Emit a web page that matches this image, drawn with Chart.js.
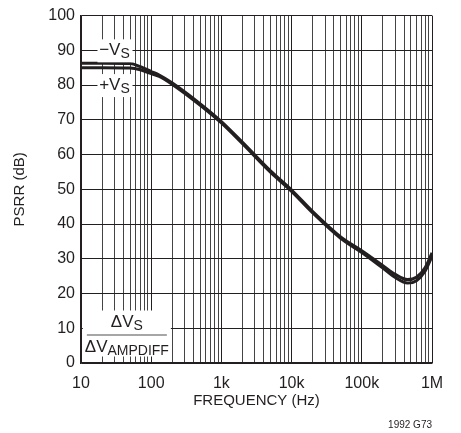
<!DOCTYPE html>
<html>
<head>
  <meta charset="utf-8">
  <title>PSRR vs Frequency</title>
  <style type="text/css">
    body {
      background-color: #FFF;
      margin: 0;
      padding: 0;
    }
    #psrr {
      display: block;
    }
  </style>
</head>
<body>
  <canvas id="psrr" width="461" height="433"></canvas>

  <script src="https://cdn.jsdelivr.net/npm/chart.js"></script>
  <script>
    // values
    var frekans = [10, 20, 50, 70, 100, 130, 200, 500, 1000, 2000, 5000, 10000, 20000, 50000, 100000, 200000, 300000, 450000, 600000, 800000, 1000000];
    var eksiVs = [86.3, 86.3, 86.2, 85.3, 83.9, 82.9, 80.6, 74.6, 69.5, 63.5, 55.3, 49.8, 43.6, 36.3, 32.3, 28.0, 25.5, 24.0, 24.7, 27.5, 31.7];
    var artiVs = [85.0, 85.0, 84.9, 84.4, 83.3, 82.5, 80.2, 74.2, 69.1, 63.1, 54.9, 49.4, 43.2, 35.9, 31.8, 27.3, 24.6, 23.0, 23.7, 26.5, 30.7];
    var xEtiketler = {10: '10', 100: '100', 1000: '1k', 10000: '10k', 100000: '100k', 1000000: '1M'};
    var yTikler = [0, 10, 20, 30, 40, 50, 60, 70, 80, 90, 100];

    var koyu = '#231f20';
    var font = 'Liberation Sans, Arial, sans-serif';

    function noktalar(ys) {
      return frekans.map(function (f, i) { return {x: f, y: ys[i]}; });
    }

    // white label boxes drawn over the grid
    var etiketler = {
      id: 'etiketler',
      afterDatasetsDraw: function (chart) {
        var ctx = chart.ctx;
        var xs = chart.scales.x, ys = chart.scales.y;
        ctx.save();
        ctx.fillStyle = koyu;
        ctx.textBaseline = 'middle';

        function altIndisli(ana, alt, cx, cy, boy, altBoy) {
          ctx.font = boy + 'px ' + font;
          var w1 = ctx.measureText(ana).width;
          ctx.font = altBoy + 'px ' + font;
          var w2 = ctx.measureText(alt).width;
          var x0 = cx - (w1 + w2) / 2;
          ctx.textAlign = 'left';
          ctx.font = boy + 'px ' + font;
          ctx.fillText(ana, x0, cy);
          ctx.font = altBoy + 'px ' + font;
          ctx.fillText(alt, x0 + w1, cy + 4);
          return w1 + w2;
        }

        // -Vs and +Vs
        [['\u2212V', 90], ['+V', 80]].forEach(function (e) {
          var cx = xs.getPixelForValue(30), cy = ys.getPixelForValue(e[1]);
          ctx.fillStyle = '#FFF';
          ctx.fillRect(cx - 17, cy - 11, 35, 23);
          ctx.fillStyle = koyu;
          altIndisli(e[0], 'S', cx, cy, 17, 14);
        });

        // fraction box
        var fx = xs.getPixelForValue(45), fy = ys.getPixelForValue(8.2);
        ctx.fillStyle = '#FFF';
        ctx.fillRect(fx - 44, fy - 24, 88, 46);
        ctx.fillStyle = koyu;
        altIndisli('\u0394V', 'S', fx, fy - 12, 17, 14);
        altIndisli('\u0394V', 'AMPDIFF', fx, fy + 13, 17, 14);
        ctx.strokeStyle = '#888';
        ctx.lineWidth = 1.5;
        ctx.beginPath();
        ctx.moveTo(fx - 40, fy + 0.5);
        ctx.lineTo(fx + 40, fy + 0.5);
        ctx.stroke();

        ctx.font = '10px ' + font;
        ctx.textAlign = 'right';
        ctx.fillText('1992 G73', chart.chartArea.right, 425);
        ctx.restore();
      }
    };

    var grafik = new Chart(document.getElementById('psrr').getContext('2d'), {
      type: 'line',
      data: {
        datasets: [{
          label: '-Vs',
          data: noktalar(eksiVs),
          borderColor: koyu,
          borderWidth: 3,
          pointRadius: 0,
          cubicInterpolationMode: 'monotone'
        }, {
          label: '+Vs',
          data: noktalar(artiVs),
          borderColor: koyu,
          borderWidth: 3,
          pointRadius: 0,
          cubicInterpolationMode: 'monotone'
        }]
      },
      options: {
        responsive: false,
        animation: false,
        layout: {padding: {left: 0, top: 11, right: 29, bottom: 0}},
        plugins: {legend: {display: false}, tooltip: {enabled: false}},
        scales: {
          x: {
            type: 'logarithmic',
            min: 10,
            max: 1000000,
            afterBuildTicks: function (scale) {
              var t = [];
              for (var d = 10; d < 1000000; d *= 10) {
                for (var k = 1; k < 10; k++) t.push({value: d * k});
              }
              t.push({value: 1000000});
              scale.ticks = t;
            },
            afterFit: function (scale) { scale.height = 70; },
            ticks: {
              autoSkip: false,
              maxRotation: 0,
              padding: 11,
              color: koyu,
              font: {family: font, size: 16},
              callback: function (v) { return xEtiketler[v] || ''; }
            },
            grid: {
              drawTicks: false,
              color: function (c) { return xEtiketler[c.tick.value] ? koyu : '#444'; },
              lineWidth: 1
            },
            border: {color: koyu, width: 1.5},
            title: {
              display: true,
              text: 'FREQUENCY (Hz)',
              color: koyu,
              font: {family: font, size: 15},
              padding: {top: 0, bottom: 23}
            }
          },
          y: {
            min: 0,
            max: 100,
            afterBuildTicks: function (scale) {
              scale.ticks = yTikler.map(function (v) { return {value: v}; });
            },
            afterFit: function (scale) { scale.width = 81; },
            ticks: {
              padding: 6,
              color: koyu,
              font: {family: font, size: 16}
            },
            grid: {drawTicks: false, color: koyu, lineWidth: 1},
            border: {color: koyu, width: 1.5},
            title: {
              display: true,
              text: 'PSRR (dB)',
              color: koyu,
              font: {family: font, size: 15},
              padding: {top: 11, bottom: 0}
            }
          }
        }
      },
      plugins: [etiketler]
    });
  </script>
</body>
</html>
